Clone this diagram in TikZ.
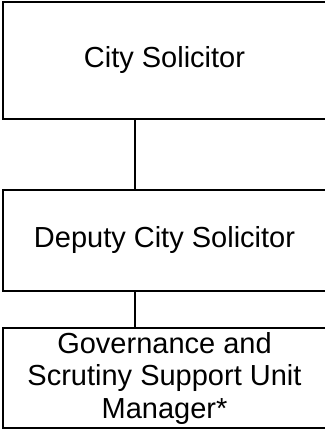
\documentclass[tikz,border=0pt]{standalone}
\usepackage{fontspec}
\setmainfont{Liberation Sans}
\begin{document}
\begin{tikzpicture}[x=1pt,y=-1pt,
  orgbox/.style={draw=black, line width=1.6pt, fill=white, inner sep=0pt, align=center, font=\fontsize{29}{32.5}\selectfont, minimum width=323pt},
  link/.style={draw=black, line width=1.6pt}]
\useasboundingbox (0,0) rectangle (324,430);
\node[orgbox, minimum height=117pt] (cs) at (164.5,60.5) {City Solicitor};
\node[orgbox, minimum height=101pt] (dcs) at (164.5,240.5) {Deputy City Solicitor};
\node[orgbox, minimum height=100pt] (gs) at (164.5,378) {Governance and\\Scrutiny Support Unit\\Manager*};
\coordinate (cx) at (135,0);
\draw[link] (cs.south -| cx) -- (dcs.north -| cx);
\draw[link] (dcs.south -| cx) -- (gs.north -| cx);
\end{tikzpicture}
\end{document}
